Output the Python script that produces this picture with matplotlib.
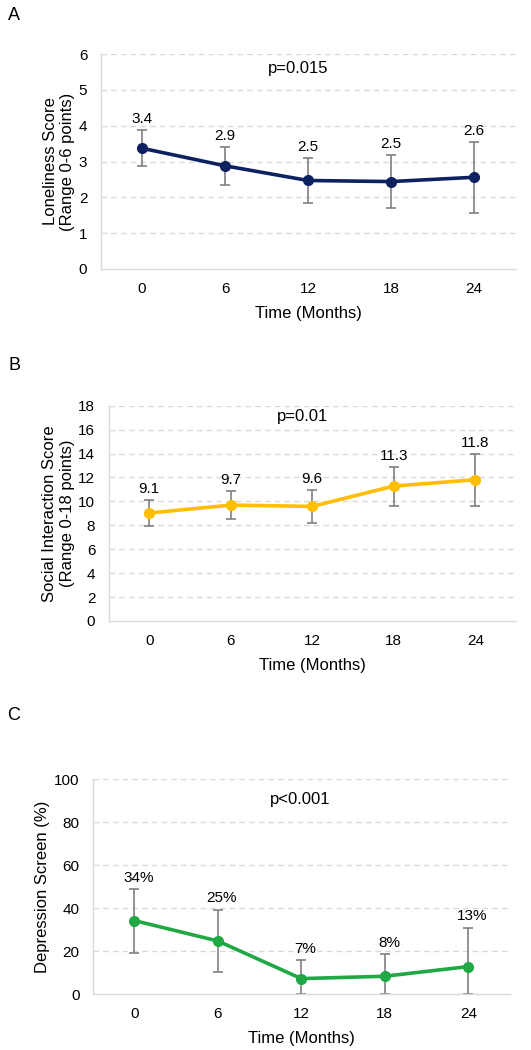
import matplotlib
matplotlib.use("Agg")
import matplotlib.pyplot as plt
import matplotlib.transforms as mtransforms
import numpy as np

plt.rcParams['font.family'] = ['Liberation Sans', 'DejaVu Sans']

months = ["0", "6", "12", "18", "24"]

# Panel A: loneliness
lon_mean = [3.37, 2.88, 2.47, 2.44, 2.56]
lon_low = [2.88, 2.35, 1.83, 1.69, 1.55]
lon_high = [3.87, 3.41, 3.09, 3.17, 3.55]
lon_labels = ["3.4", "2.9", "2.5", "2.5", "2.6"]

# Panel B: social interaction
soc_mean = [9.03, 9.69, 9.58, 11.28, 11.81]
soc_low = [7.97, 8.55, 8.19, 9.64, 9.61]
soc_high = [10.08, 10.84, 10.92, 12.87, 13.98]
soc_labels = ["9.1", "9.7", "9.6", "11.3", "11.8"]

# Panel C: depression screen
dep_mean = [34.3, 24.8, 7.3, 8.4, 12.9]
dep_low = [19.2, 10.2, 0.2, 0.2, 0.2]
dep_high = [49.1, 39.4, 16.1, 18.8, 31.0]
dep_labels = ["34%", "25%", "7%", "8%", "13%"]

W, H = 531, 1050
fig = plt.figure(figsize=(W / 100, H / 100), dpi=100)

panels = [
    dict(letter="A", rect=(100.5, 54, 515.5, 269), mean=lon_mean, low=lon_low, high=lon_high,
         labels=lon_labels, color="#0d2161", ymax=6, step=1,
         ylabel="Loneliness Score\n(Range 0-6 points)", p="p=0.015", px=0.476, py=5.6,
         letter_y=15, dx=0),
    dict(letter="B", rect=(108.5, 405.7, 516, 621), mean=soc_mean, low=soc_low, high=soc_high,
         labels=soc_labels, color="#ffbf00", ymax=18, step=2,
         ylabel="Social Interaction Score\n(Range 0-18 points)", p="p=0.01", px=0.475, py=17.1,
         letter_y=365, dx=0),
    dict(letter="C", rect=(92.6, 779.3, 510, 994.3), mean=dep_mean, low=dep_low, high=dep_high,
         labels=dep_labels, color="#1fa843", ymax=100, step=20,
         ylabel="Depression Screen (%)", p="p<0.001", px=0.497, py=90.4,
         letter_y=715, dx=3),
]

grey = "#d9d9d9"
txt = "black"
for pn in panels:
    x0, y0, x1, y1 = pn["rect"]
    ax = fig.add_axes([x0 / W, 1 - y1 / H, (x1 - x0) / W, (y1 - y0) / H])
    x = np.arange(len(months))
    mean = np.array(pn["mean"])
    yerr = [mean - np.array(pn["low"]), np.array(pn["high"]) - mean]
    ax.errorbar(x, mean, yerr=yerr, fmt="none", ecolor="#808080", elinewidth=1.2,
                capsize=3.5, capthick=1.2, zorder=2)
    ax.plot(x, mean, color=pn["color"], lw=2.6, marker="o", markersize=7, zorder=3)
    for xi, hi, lab in zip(x, pn["high"], pn["labels"]):
        ax.annotate(lab, (xi, hi), xytext=(pn["dx"], 3), textcoords="offset points",
                    ha="center", va="bottom", fontsize=11, color=txt)
    ax.set_xlim(-0.5, len(months) - 0.5)
    ax.set_ylim(0, pn["ymax"])
    ax.set_yticks(np.arange(0, pn["ymax"] + 0.001, pn["step"]))
    ax.set_xticks(x)
    ax.set_xticklabels(months)
    ax.tick_params(length=0, labelsize=11, pad=9.5, colors=txt)
    for t in ax.get_yticks()[1:]:
        ax.axhline(t, color=grey, lw=1, ls=(0, (4, 3)), zorder=0)
    for s in ["top", "right"]:
        ax.spines[s].set_visible(False)
    for s in ["left", "bottom"]:
        ax.spines[s].set_color(grey)
        ax.spines[s].set_linewidth(1)
    ax.set_ylabel(pn["ylabel"], fontsize=12, color=txt, labelpad=2.5, linespacing=1.2)
    ax.set_xlabel("Time (Months)", fontsize=12, color=txt, labelpad=7)
    ax.text(pn["px"], pn["py"], pn["p"],
            transform=mtransforms.blended_transform_factory(ax.transAxes, ax.transData),
            ha="center", va="center", fontsize=12, color=txt)
    fig.text(14 / W, 1 - pn["letter_y"] / H, pn["letter"], ha="center", va="center",
             fontsize=13, color=txt)

fig.savefig("out.png", dpi=100, facecolor="white")
